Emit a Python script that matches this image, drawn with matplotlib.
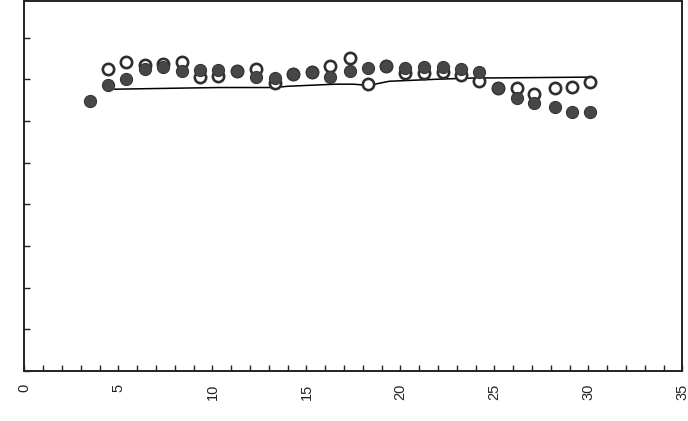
import matplotlib
matplotlib.use('Agg')
import matplotlib.pyplot as plt
from matplotlib.ticker import MultipleLocator, NullFormatter

# x positions of the measurement points
x_pts = [3.47, 4.42, 5.42, 6.43, 7.38, 8.39, 9.34, 10.29, 11.3, 12.3, 13.3, 14.3,
         15.27, 16.27, 17.3, 18.28, 19.23, 20.24, 21.24, 22.25, 23.2, 24.2,
         25.2, 26.2, 27.1, 28.2, 29.1, 30.1]

# filled circles
filled = [6.47, 6.86, 7.00, 7.24, 7.29, 7.19, 7.22, 7.22, 7.19, 7.05, 7.03, 7.12,
          7.17, 7.05, 7.19, 7.27, 7.31, 7.27, 7.29, 7.29, 7.24, 7.17,
          6.79, 6.55, 6.43, 6.33, 6.21, 6.21]

# open circles (first point has none)
x_open = x_pts[1:]
open_ = [7.24, 7.41, 7.34, 7.36, 7.41, 7.05, 7.07, 7.19, 7.24, 6.91, 7.12,
         7.17, 7.31, 7.51, 6.88, 7.31, 7.15, 7.15, 7.17, 7.10, 6.95,
         6.79, 6.79, 6.64, 6.79, 6.81, 6.93]

# reference curve
x_line = [4.8, 10.3, 13.3, 14.0, 16.5, 17.5, 18.3, 19.4, 22.0, 24.0, 25.0, 30.1]
y_line = [6.76, 6.80, 6.80, 6.83, 6.88, 6.88, 6.85, 6.95, 7.00, 7.03, 7.03, 7.05]

plt.rcParams['font.family'] = ['Liberation Sans', 'DejaVu Sans']

fig = plt.figure(figsize=(6.88, 4.21), dpi=100)
ax = fig.add_axes([0.0356, 0.119, 0.9564, 0.879])

ax.plot(x_line, y_line, color='black', lw=1.1, zorder=2)
ax.scatter(x_open, open_, s=66, facecolor='white', edgecolor='#2e2e2e',
           linewidths=1.9, zorder=3)
ax.scatter(x_pts, filled, s=76, color='#474747', edgecolor='#363636',
           linewidths=0.8, zorder=4)

ax.set_xlim(0, 35)
ax.set_ylim(0, 8.88)
ax.xaxis.set_major_locator(MultipleLocator(5))
ax.xaxis.set_minor_locator(MultipleLocator(1))
ax.yaxis.set_major_locator(MultipleLocator(1))
ax.yaxis.set_major_formatter(NullFormatter())
ax.tick_params(axis='both', which='both', direction='in', length=4, width=1,
               color='#222222')
ax.tick_params(axis='x', labelrotation=90, labelsize=10.5, pad=9,
               labelcolor='#222222')
for s in ax.spines.values():
    s.set_linewidth(1.4)
    s.set_color('#222222')

fig.savefig('out.png', dpi=100)
